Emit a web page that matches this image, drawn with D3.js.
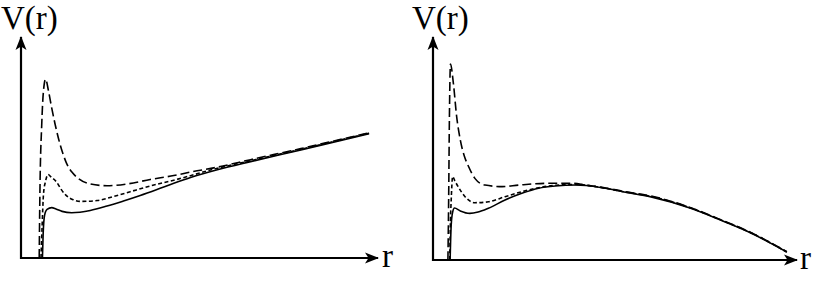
<!DOCTYPE html>
<html>
<head>
<meta charset="utf-8">
<script src="https://cdn.jsdelivr.net/npm/d3@7"></script>
<style>
  body { margin: 0; background: #fff; }
  .label { font-family: "Liberation Serif", "DejaVu Serif", serif; font-size: 33px; fill: #000; }
</style>
</head>
<body>
<div class="chart"></div>
<script>
// curves as [r, V] pairs (arbitrary units, axes 0..10)

// left panel: linear confinement
const leftLong = [[0.51,0],[0.53,2.98],[0.58,6.01],[0.63,7.57],[0.69,8.09],[0.77,7.56],[0.86,6.79],
  [0.96,6.02],[1.05,5.41],[1.19,4.65],[1.28,4.27],[1.42,3.90],[1.56,3.66],[1.94,3.35],[2.41,3.27],
  [2.97,3.35],[3.62,3.55],[4.28,3.73],[4.75,3.89],[5.50,4.11],[6.43,4.45],[7.84,4.95],[8.96,5.37],[9.75,5.67]];
const leftShort = [[0.56,0],[0.59,1.38],[0.63,2.89],[0.69,3.49],[0.76,3.78],[0.84,3.67],[1.00,3.43],
  [1.14,3.07],[1.28,2.81],[1.46,2.64],[1.66,2.56],[2.13,2.60],[2.59,2.78],[3.06,3.00],[3.62,3.26],
  [4.28,3.52],[5.50,4.06],[6.43,4.40],[7.84,4.92],[8.96,5.35],[9.75,5.65]];
const leftSolid = [[0.60,0],[0.62,1.06],[0.66,1.93],[0.73,2.20],[0.86,2.28],[0.98,2.22],[1.15,2.11],
  [1.42,2.05],[1.94,2.15],[2.41,2.35],[2.87,2.58],[3.34,2.83],[3.81,3.10],[4.28,3.38],[4.75,3.64],
  [5.50,3.99],[6.43,4.36],[7.84,4.89],[8.96,5.32],[9.75,5.62]];

// right panel: potential turning over
const rightLong = [[0.41,0],[0.43,2.69],[0.45,6.28],[0.48,8.79],[0.56,7.92],[0.65,6.43],[0.75,5.38],
  [0.86,4.66],[0.98,4.18],[1.15,3.66],[1.43,3.36],[1.90,3.29],[2.36,3.36],[3.18,3.44],[3.82,3.44],[4.19,3.36],
  [4.61,3.27],[5.25,3.07],[5.99,2.87],[7.10,2.33],[7.93,1.79],[8.76,1.21],[9.72,0.37]];
const rightShort = [[0.46,0],[0.48,1.79],[0.50,2.69],[0.54,3.74],[0.60,3.55],[0.69,3.29],[0.88,2.84],
  [1.15,2.57],[1.52,2.61],[1.98,2.84],[2.44,3.06],[2.90,3.24],[3.36,3.35],[3.92,3.39],[4.61,3.25],
  [5.25,3.06],[5.99,2.85],[7.10,2.32],[7.93,1.78],[8.76,1.20],[9.72,0.36]];
const rightSolid = [[0.47,0],[0.50,1.57],[0.54,2.15],[0.59,2.33],[0.75,2.20],[1.01,2.09],[1.24,2.15],
  [1.52,2.32],[1.98,2.69],[2.44,2.99],[2.90,3.22],[3.36,3.32],[3.92,3.36],[4.61,3.25],[5.25,3.05],
  [5.99,2.83],[7.10,2.31],[7.93,1.77],[8.76,1.19],[9.72,0.36]];

const yLabel = "V(r)";
const xLabel = "r";

const width = 817, height = 285;

const svg = d3.select(".chart").append("svg")
    .attr("width", width)
    .attr("height", height);

svg.append("defs").append("marker")
    .attr("id", "arrow")
    .attr("viewBox", "0 -6 14 12")
    .attr("refX", 13)
    .attr("refY", 0)
    .attr("markerWidth", 14)
    .attr("markerHeight", 12)
    .attr("markerUnits", "userSpaceOnUse")
    .attr("orient", "auto")
  .append("path")
    .attr("d", "M0,-5.5L14,0L0,5.5L3.5,0Z")
    .attr("fill", "#000");

const panels = [
  {xr: [21, 378], yr: [258, 37], lx: 1, rx: 382, curves: [leftLong, leftShort, leftSolid]},
  {xr: [433, 797], yr: [260, 37], lx: 412, rx: 800, curves: [rightLong, rightShort, rightSolid]}
];

const dashes = ["9,4", "4,2.5", null];

panels.forEach(function(p) {
  const xScale = d3.scaleLinear().domain([0, 10]).range(p.xr);
  const yScale = d3.scaleLinear().domain([0, 10]).range(p.yr);

  const g = svg.append("g");

  // axes with arrow heads
  g.append("line")
    .attr("x1", xScale(0)).attr("y1", yScale(0))
    .attr("x2", xScale(10)).attr("y2", yScale(0))
    .attr("stroke", "#000").attr("stroke-width", 2.2)
    .attr("marker-end", "url(#arrow)");
  g.append("line")
    .attr("x1", xScale(0)).attr("y1", yScale(0) + 1)
    .attr("x2", xScale(0)).attr("y2", yScale(10))
    .attr("stroke", "#000").attr("stroke-width", 2.2)
    .attr("marker-end", "url(#arrow)");

  const line = d3.line()
    .x(d => xScale(d[0]))
    .y(d => yScale(d[1]))
    .curve(d3.curveMonotoneX);

  p.curves.forEach(function(c, i) {
    g.append("path")
      .datum(c)
      .attr("d", line)
      .attr("fill", "none")
      .attr("stroke", "#000")
      .attr("stroke-width", 1.6)
      .attr("stroke-dasharray", dashes[i]);
  });

  g.append("text")
    .attr("class", "label")
    .attr("x", p.lx)
    .attr("y", 29)
    .text(yLabel);

  g.append("text")
    .attr("class", "label")
    .attr("x", p.rx)
    .attr("y", yScale(0) + 9)
    .text(xLabel);
});
</script>
</body>
</html>
